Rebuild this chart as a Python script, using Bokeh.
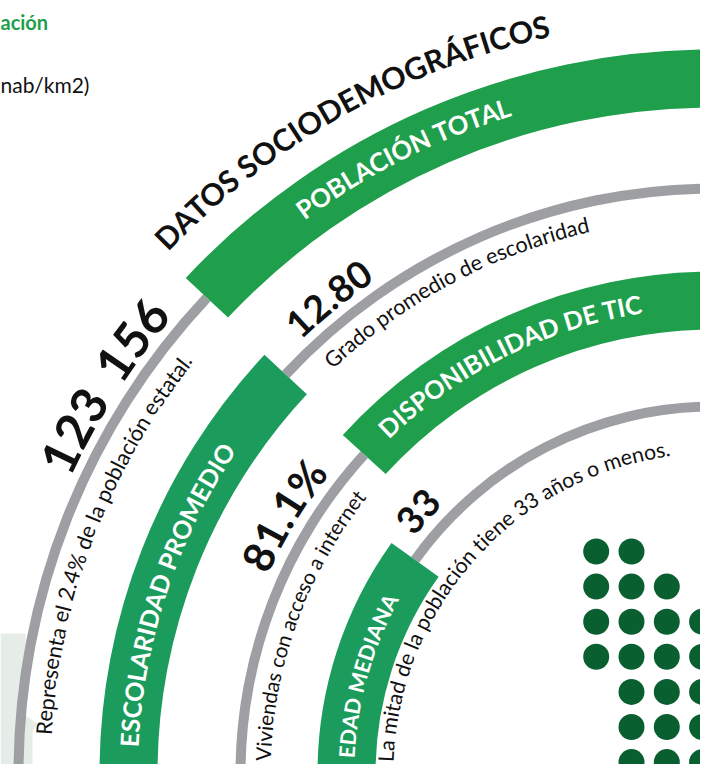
import math, glob, os, subprocess
from bokeh.plotting import figure
from bokeh.models import ColumnDataSource, Range1d
from bokeh.core.properties import value
from bokeh.embed import file_html
from bokeh.resources import INLINE

# ---------------- data ----------------
title = "DATOS SOCIODEMOGRÁFICOS"
categories = ["POBLACIÓN TOTAL", "ESCOLARIDAD PROMEDIO", "DISPONIBILIDAD DE TIC", "EDAD MEDIANA"]
values = ["123 156", "12.80", "81.1%", "33"]
notes = ["Representa el 2.4% de la población estatal.",
         "Grado promedio de escolaridad",
         "Viviendas con acceso a internet",
         "La mitad de la población tiene 33 años o menos."]
header_green = "ación"
header_black = "nab/km2)"
dot_row = [0, 0, 1, 1, 1, 2, 2, 2, 2, 3, 3, 3, 3, 4, 4, 4, 5, 5, 5, 6, 6, 6]
dot_col = [0, 1, 0, 1, 2, 0, 1, 2, 3, 0, 1, 2, 3, 1, 2, 3, 1, 2, 3, 1, 2, 3]

# ---------------- layout ----------------
H = 780
CX, CY = 713.0, H - 773.0
RING_R = [695, 585, 473, 367]
BAND_HALF = 29
LINE_HALF = 5
SPLIT = [136.8, 137.0, 137.6, 144.4]
BAND_TOP = [True, False, True, False]
GREEN_A = "#1f9f4b"
GREEN_B = "#1c9c5c"
GRAY = "#9d9fa3"
DARK = "#0a5f30"
INK = "#111111"

# (baseline radius, start angle, end angle) in degrees, text runs clockwise
TITLE_SPEC = (755, 136.3, 102.4)
CAT_SPEC = [(688, 126.5, 107.0), (576, 177.4, 145.9), (466, 134.2, 98.7), (359, 177.6, 151.0)]
VAL_SPEC = [(707, 155.3, 139.8), (598, 133.6, 124.4), (487, 156.0, 142.0), (381, 141.7, 135.1)]
NOTE_SPEC = [(663, 176.7, 141.6), (555, 133.3, 102.8), (443, 178.4, 141.5), (320, 178.0, 97.6)]
MID_SHIFT = 0.38   # em offset from baseline to the text box middle

FONT = "Lato"


def find_font(bold):
    names = ["Lato-Bold.ttf", "Lato-Bold.otf"] if bold else ["Lato-Regular.ttf", "Lato-Regular.otf"]
    for n in names:
        for base in ["/usr/share/fonts", "/usr/local/share/fonts", os.path.expanduser("~/.fonts"),
                     os.path.expanduser("~/.local/share/fonts")]:
            hits = glob.glob(os.path.join(base, "**", n), recursive=True)
            if hits:
                return hits[0]
    try:
        out = subprocess.run(["fc-match", "-f", "%{file}", "Lato:bold" if bold else "Lato:regular"],
                             capture_output=True, text=True, timeout=5).stdout.strip()
        if out and "ato" in out:
            return out
    except Exception:
        pass
    return None


_fonts = {}


def measurer(bold):
    if bold in _fonts:
        return _fonts[bold]
    f = None
    try:
        from PIL import ImageFont
        path = find_font(bold)
        if path:
            f = ImageFont.truetype(path, 200)
    except Exception:
        f = None
    _fonts[bold] = f
    return f


def fallback_len(s, bold):
    tot = 0.0
    for ch in s:
        if ch == " ":
            w = 0.2
        elif ch in "il.,|!Ij":
            w = 0.25
        elif ch in "frt()/":
            w = 0.35
        elif ch in "mwMW%":
            w = 0.82
        elif ch.isdigit():
            w = 0.58
        elif ch.isupper() or ch in "ÁÓ":
            w = 0.66
        elif ch in "s":
            w = 0.42
        else:
            w = 0.52
        tot += w
    return tot * (1.05 if bold else 1.0)


def em_len(s, bold, extra_space=0.0):
    f = measurer(bold)
    base = fallback_len(s, bold) if f is None else f.getlength(s) / 200.0
    return base + extra_space * s.count(" ")


def arc_glyphs(text, r, a0, a1, bold, extra_space=0.0):
    total = em_len(text, bold, extra_space)
    span = math.radians(a0 - a1) * r
    size = span / total
    rm = r + MID_SHIFT * size
    xs, ys, ts, angs = [], [], [], []
    for i, ch in enumerate(text):
        if ch == " ":
            continue
        s = 0.5 * (em_len(text[:i], bold, extra_space) + em_len(text[:i + 1], bold, extra_space)) * size
        phi = math.radians(a0) - s / r
        xs.append(CX + rm * math.cos(phi))
        ys.append(CY + rm * math.sin(phi))
        ts.append(ch)
        angs.append(phi - math.pi / 2)
    return ColumnDataSource(dict(x=xs, y=ys, t=ts, a=angs)), size


# page shows the figure at the top-left; keep 1:1 pixel mapping
p = figure(width=700, height=764, x_range=Range1d(0, 700), y_range=Range1d(H - 764, H),
           x_axis_type=None, y_axis_type=None, output_backend="svg", toolbar_location=None,
           min_border=0)
p.grid.visible = False
p.outline_line_color = None
p.background_fill_color = "white"
p.border_fill_color = "white"

# light side panel (part of neighbouring column)
px = [0, 25, 25, 37, 32, 32, 0]
py = [633, 633, 715, 723, 731, 775, 775]
p.patch(px, [H - v for v in py], fill_color="#e6ece7", line_color=None)

# rings
for i, r in enumerate(RING_R):
    band_col = GREEN_A if i % 2 == 0 else GREEN_B
    top = (90, SPLIT[i])
    bot = (SPLIT[i], 180)
    band_seg, line_seg = (top, bot) if BAND_TOP[i] else (bot, top)
    p.annular_wedge(x=CX, y=CY, inner_radius=r - LINE_HALF, outer_radius=r + LINE_HALF,
                    start_angle=math.radians(line_seg[0]), end_angle=math.radians(line_seg[1]),
                    fill_color=GRAY, line_color=None)
    p.annular_wedge(x=CX, y=CY, inner_radius=r - BAND_HALF, outer_radius=r + BAND_HALF,
                    start_angle=math.radians(band_seg[0]), end_angle=math.radians(band_seg[1]),
                    fill_color=band_col, line_color=None)


def draw(text, spec, bold, color, extra_space=0.0):
    src, size = arc_glyphs(text, spec[0], spec[1], spec[2], bold, extra_space)
    p.text(x="x", y="y", text="t", angle="a", source=src, text_font=value(FONT),
           text_font_size=value(f"{size:.1f}px"), text_font_style="bold" if bold else "normal",
           text_color=color, text_align="center", text_baseline="middle")


draw(title, TITLE_SPEC, True, INK)
for i in range(4):
    draw(categories[i], CAT_SPEC[i], True, "white")
    draw(values[i], VAL_SPEC[i], True, INK, extra_space=0.15)
    draw(notes[i], NOTE_SPEC[i], False, INK)

# header fragments (baselines at y=29 and y=92 from the top)
p.text(x=[0], y=[H - 29 + MID_SHIFT * 20], text=[header_green], text_font=value(FONT),
       text_font_size="20px", text_font_style="bold", text_color=GREEN_A, text_baseline="middle")
p.text(x=[0], y=[H - 92 + MID_SHIFT * 21], text=[header_black], text_font=value(FONT),
       text_font_size="21px", text_color=INK, text_baseline="middle")

# dots
DOT_X0, DOT_Y0, DOT_DX, DOT_DY = 595.7, 551.0, 35.3, 35.1
p.circle(x=[DOT_X0 + c * DOT_DX for c in dot_col], y=[H - (DOT_Y0 + r * DOT_DY) for r in dot_row],
         radius=13, fill_color=DARK, line_color=None)

open("out.html", "w").write(file_html(p, INLINE))
